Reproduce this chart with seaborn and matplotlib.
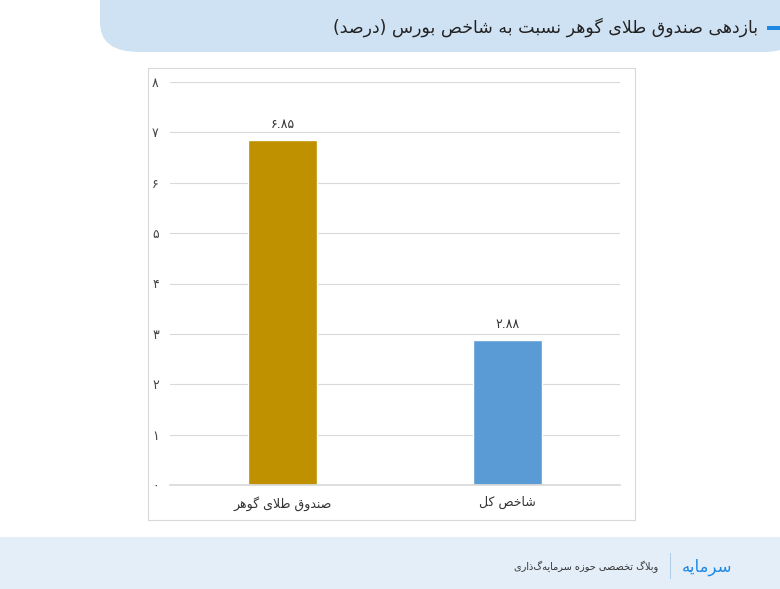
import matplotlib
matplotlib.use("Agg")
import matplotlib.pyplot as plt
import seaborn as sns
from matplotlib.patches import FancyBboxPatch, Rectangle

TITLE = "بازدهی صندوق طلای گوهر نسبت به شاخص بورس (درصد)"
CATEGORIES = ["صندوق طلای گوهر", "شاخص کل"]
VALUES = [6.85, 2.88]
VALUE_LABELS = ["۶.۸۵", "۲.۸۸"]
COLORS = ["#BF9000", "#5B9BD5"]
YTICKS = [0, 1, 2, 3, 4, 5, 6, 7, 8]
YTICK_LABELS = ["۰", "۱", "۲", "۳", "۴", "۵", "۶", "۷", "۸"]
FOOTER = "وبلاگ تخصصی حوزه سرمایه\u200cگذاری"
LOGO = "سرمایه"

# (isolated, final, initial, medial); None = does not join to the next letter
FORMS = {
    "ا": (0xFE8D, 0xFE8E, None, None), "ب": (0xFE8F, 0xFE90, 0xFE91, 0xFE92),
    "ت": (0xFE95, 0xFE96, 0xFE97, 0xFE98), "ح": (0xFEA1, 0xFEA2, 0xFEA3, 0xFEA4),
    "خ": (0xFEA5, 0xFEA6, 0xFEA7, 0xFEA8), "د": (0xFEA9, 0xFEAA, None, None),
    "ر": (0xFEAD, 0xFEAE, None, None), "ز": (0xFEAF, 0xFEB0, None, None),
    "ژ": (0xFB8A, 0xFB8B, None, None), "س": (0xFEB1, 0xFEB2, 0xFEB3, 0xFEB4),
    "ش": (0xFEB5, 0xFEB6, 0xFEB7, 0xFEB8), "ص": (0xFEB9, 0xFEBA, 0xFEBB, 0xFEBC),
    "ط": (0xFEC1, 0xFEC2, 0xFEC3, 0xFEC4), "ف": (0xFED1, 0xFED2, 0xFED3, 0xFED4),
    "ق": (0xFED5, 0xFED6, 0xFED7, 0xFED8), "ل": (0xFEDD, 0xFEDE, 0xFEDF, 0xFEE0),
    "م": (0xFEE1, 0xFEE2, 0xFEE3, 0xFEE4), "ن": (0xFEE5, 0xFEE6, 0xFEE7, 0xFEE8),
    "ه": (0xFEE9, 0xFEEA, 0xFEEB, 0xFEEC), "و": (0xFEED, 0xFEEE, None, None),
    "ی": (0xFBFC, 0xFBFD, 0xFBFE, 0xFBFF), "ک": (0xFB8E, 0xFB8F, 0xFB90, 0xFB91),
    "گ": (0xFB92, 0xFB93, 0xFB94, 0xFB95),
}


def shape(text):
    """Minimal Persian shaping + visual reordering for matplotlib."""
    text = text.replace("لا", "\uFEFB")
    chars = list(text)
    out = []
    for i, c in enumerate(chars):
        if c == "\uFEFB":
            prev = chars[i - 1] if i > 0 else ""
            joins = prev in FORMS and FORMS[prev][2] is not None
            out.append("\uFEFC" if joins else "\uFEFB")
            continue
        if c not in FORMS:
            out.append("" if c == "\u200c" else c)
            continue
        prev = chars[i - 1] if i > 0 else ""
        nxt = chars[i + 1] if i + 1 < len(chars) else ""
        jp = prev in FORMS and FORMS[prev][2] is not None
        jn = FORMS[c][2] is not None and (nxt in FORMS or nxt == "\uFEFB")
        iso, fin, ini, med = FORMS[c]
        code = med if jp and jn else fin if jp else ini if jn else iso
        out.append(chr(code))
    s = "".join(out)[::-1]
    return s.translate(str.maketrans("()", ")("))


sns.set_theme(style="white")
plt.rcParams["font.family"] = ["DejaVu Sans"]

fig = plt.figure(figsize=(7.8, 5.89), dpi=100)
fig.patch.set_facecolor("white")


def add_bg(p):
    p.set_zorder(-5)
    fig.patches.append(p)


# header band and footer band
add_bg(FancyBboxPatch((100 / 780, 1 - 52 / 589), 0.9, 0.15, boxstyle="round,pad=0,rounding_size=0.05",
                      transform=fig.transFigure, facecolor="#CFE2F3", edgecolor="none"))
add_bg(Rectangle((0, 0), 1, 52 / 589, transform=fig.transFigure, facecolor="#E3EEF8", edgecolor="none"))
add_bg(FancyBboxPatch((-0.1, 52 / 589), 1.07, 0.06, boxstyle="round,pad=0,rounding_size=0.05",
                      transform=fig.transFigure, facecolor="white", edgecolor="none"))
add_bg(Rectangle((767 / 780, 1 - 30 / 589), 13 / 780, 4 / 589, transform=fig.transFigure,
                 facecolor="#1E88E5", edgecolor="none"))
add_bg(Rectangle((148 / 780, 1 - 520 / 589), 487 / 780, 452 / 589, transform=fig.transFigure,
                 facecolor="white", edgecolor="#D9D9D9", linewidth=0.8))
fig.text(758 / 780, 1 - 27 / 589, shape(TITLE), ha="right", va="center", fontsize=12.5, color="#222222")
fig.text(658 / 780, 22 / 589, shape(FOOTER), ha="right", va="center", fontsize=7, color="#333333")
fig.text(682 / 780, 22 / 589, shape(LOGO), ha="left", va="center", fontsize=12, color="#1E88E5")
add_bg(Rectangle((670 / 780, 10 / 589), 1 / 780, 26 / 589, transform=fig.transFigure,
                 facecolor="#B0CDE8", edgecolor="none"))

ax = fig.add_axes([170 / 780, 1 - 485 / 589, 450 / 780, 403 / 589])
ax.set_facecolor("none")
labels = [shape(c) for c in CATEGORIES]
sns.barplot(x=labels, y=VALUES, hue=labels, palette=COLORS, saturation=1, width=0.31, legend=False, ax=ax)
ax.set_ylim(0, 8)
ax.set_yticks(YTICKS)
ax.set_yticklabels(YTICK_LABELS, fontsize=9, color="#444444")
ax.yaxis.grid(True, color="#D9D9D9", linewidth=0.8)
ax.set_axisbelow(True)
for s in ["top", "right", "left"]:
    ax.spines[s].set_visible(False)
ax.spines["bottom"].set_color("#D9D9D9")
ax.tick_params(axis="y", length=0, pad=8)
ax.tick_params(axis="x", length=0, pad=8, labelsize=9, labelcolor="#333333")
for i, (v, t) in enumerate(zip(VALUES, VALUE_LABELS)):
    ax.text(i, v + 0.18, t, ha="center", va="bottom", fontsize=9, color="#333333")
ax.set_xlabel("")
ax.set_ylabel("")

fig.savefig("out.png", dpi=100)
